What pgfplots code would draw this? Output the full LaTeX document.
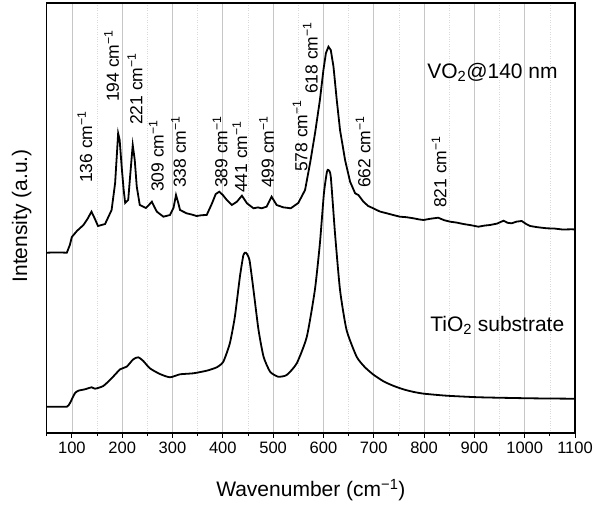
\documentclass[border=0pt]{standalone}
\usepackage{pgfplots}
\pgfplotsset{compat=1.18}
\usepackage{fontspec}
\setmainfont{Liberation Sans}
\begin{document}
\begin{tikzpicture}
\begin{axis}[
  scale only axis, width=528.3pt, height=430pt,
  xmin=50, xmax=1100, ymin=0, ymax=430,
  xtick={100,200,...,1100}, minor xtick={50,150,...,1050},
  ytick=\empty,
  xtick pos=bottom,
  tick align=outside,
  major tick length=4.5pt, minor tick length=3pt,
  xmajorgrids, xminorgrids,
  major grid style={gray!45, line width=0.7pt},
  minor grid style={gray!30, dotted, line width=0.5pt},
  axis line style={line width=1.1pt},
  every tick/.style={black, line width=0.9pt},
  /pgf/number format/assume math mode=true,
  /pgf/number format/1000 sep={},
  tick label style={font=\fontsize{16.5}{19}\selectfont},
  xticklabel style={yshift=-1pt},
  xlabel={Wavenumber (cm\textsuperscript{−1})},
  ylabel={Intensity (a.u.)},
  label style={font=\fontsize{21}{24}\selectfont},
  xlabel style={at={(axis description cs:0.5,-0.1326)}, anchor=center},
  ylabel style={at={(axis description cs:-0.0473,0.505)}, anchor=center},
  clip=false,
]
\addplot[black, line width=1.8pt] coordinates {
(50,180.3)(70,180.6)(90,180.3)(96,188)(100,196)(110,202)(123,208)(131,214)(139,221.3)(145,215)(152,207)(166,209)(179,223)(186,250)(190,283)(192,299.7)(195,293)(199,266.3)(203,243)(206,230)(212,233)(216,258)(221,288)(225,273)(229,246.3)(235,228)(247,225)(253,228)(259,231.3)(264,226)(269,221.3)(282,216.3)(295,218)(302,225)(307,238)(311,231)(315,223)(328,219.7)(338,218.5)(348,217)(358,217.8)(368,218)(378,229)(386,239)(393,241.3)(400,238)(408,233)(418,228)(428,231.3)(438,237.3)(448,229.7)(461,224.7)(470,225.6)(477,224.7)(487,226.3)(497,236.3)(507,228)(520,225.7)(535,224.7)(550,230)(563.5,243)(573.5,270)(583.4,300)(593,333)(600,363)(605,380)(610,386.3)(614.6,383)(620,366.3)(626.5,333)(633,303)(643,273)(653,251.3)(663,239.7)(669.5,238)(679.5,231.3)(689,227)(699,224.7)(712,221.5)(726,219.7)(740,217.8)(752,216.3)(765,215.8)(779,214.7)(790,213.6)(799,213)(812,214.2)(828,215.3)(840,212.8)(852,211.3)(865,210.4)(878,209)(893,207.8)(908,206.3)(920,207.4)(931,208)(945,209.4)(958,212.3)(966,210.2)(974,209.7)(984,211.4)(994,212)(1003,209)(1011,207)(1025,205.8)(1044,204.7)(1060,204.4)(1075,203.5)(1094,203.7)(1100,203.5)
};
\addplot[black, line width=1.8pt, smooth, tension=0.35] coordinates {
(50,26.3)(70,26.3)(90,26.3)(96,29.7)(106,39.7)(113,42.3)(126,43.7)(139.5,45.7)(146,44.3)(162.5,47)(179,54.7)(196,63.7)(209,66.3)(222,73.7)(232,75.7)(242,72)(255,64.7)(275,59)(295,55.7)(315,58.7)(341.5,59.7)(368,62.3)(388,65.7)(401,71.3)(414,89.7)(424,116.3)(434,156.3)(441,178)(446,180.3)(453,173)(461,143)(471,103)(481,76.3)(494,61.3)(510,56.3)(527,58)(547,69.7)(567,96.3)(583,143)(593,189.7)(601,239.7)(607,261.3)(610,263)(614.6,256.3)(623,199.7)(633,143)(646,103)(666,76.3)(682,66)(699,58.5)(720,51.5)(740,47)(760,43.5)(780,41)(800,39.3)(845,37.3)(911,35.7)(1011,34.7)(1094,34.3)(1100,34.3)
};
\begin{scope}[every node/.style={rotate=90, anchor=west, inner sep=0pt, font=\fontsize{17.5}{20}\selectfont}]
\node at (axis cs:126,250) {136 cm\textsuperscript{−1}};
\node at (axis cs:179,331) {194 cm\textsuperscript{−1}};
\node at (axis cs:225.5,308) {221 cm\textsuperscript{−1}};
\node at (axis cs:268,241) {309 cm\textsuperscript{−1}};
\node at (axis cs:312,245) {338 cm\textsuperscript{−1}};
\node at (axis cs:394.5,245) {389 cm\textsuperscript{−1}};
\node at (axis cs:434,240) {441 cm\textsuperscript{−1}};
\node at (axis cs:487,245) {499 cm\textsuperscript{−1}};
\node at (axis cs:553.6,261) {578 cm\textsuperscript{−1}};
\node at (axis cs:574,339) {618 cm\textsuperscript{−1}};
\node at (axis cs:679,245) {662 cm\textsuperscript{−1}};
\node at (axis cs:830,225) {821 cm\textsuperscript{−1}};
\end{scope}
\node[anchor=west, inner sep=0pt, font=\fontsize{21}{24}\selectfont] at (axis cs:806,361) {VO\textsubscript{2}@140 nm};
\node[anchor=west, inner sep=0pt, font=\fontsize{21}{24}\selectfont] at (axis cs:812,108) {TiO\textsubscript{2} substrate};
\end{axis}
\pgfresetboundingbox
\path (-46.7pt,-71pt) rectangle (548.3pt,433pt);
\end{tikzpicture}
\end{document}
